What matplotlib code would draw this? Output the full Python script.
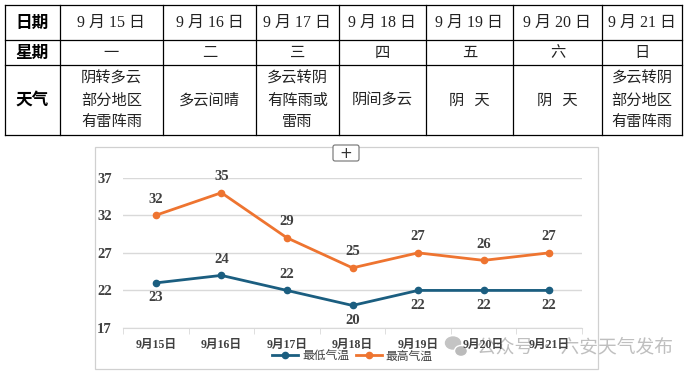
import matplotlib.pyplot as plt
from matplotlib.patches import FancyBboxPatch, Ellipse

plt.rcParams["font.family"] = ["Noto Sans CJK SC", "DejaVu Sans"]

# table data
dates = ["9 月 15 日", "9 月 16 日", "9 月 17 日", "9 月 18 日", "9 月 19 日", "9 月 20 日", "9 月 21 日"]
weekdays = ["一", "二", "三", "四", "五", "六", "日"]
weather = ["阴转多云\n部分地区\n有雷阵雨", "多云间晴", "多云转阴\n有阵雨或\n雷雨", "阴间多云",
           "阴   天", "阴   天", "多云转阴\n部分地区\n有雷阵雨"]
row_heads = ["日期", "星期", "天气"]

# chart data
categories = ["9月15日", "9月16日", "9月17日", "9月18日", "9月19日", "9月20日", "9月21日"]
low_temp = [23, 24, 22, 20, 22, 22, 22]
high_temp = [32, 35, 29, 25, 27, 26, 27]
low_label_pos = ["below", "above", "above", "below", "below", "below", "below"]

W, H = 694, 375
BLUE = "#1B5E80"
ORANGE = "#EE7430"
SERIF = ["Liberation Serif", "Noto Sans CJK SC"]

fig = plt.figure(figsize=(W / 100, H / 100), dpi=100)

# overlay in pixel coords for the table and chart frame
ov = fig.add_axes([0, 0, 1, 1])
ov.set_xlim(0, W)
ov.set_ylim(H, 0)
ov.axis("off")

col_x = [5, 60, 163, 256, 339, 426, 513, 602, 682]
row_y = [5, 40, 65, 135]
for x in col_x:
    ov.plot([x, x], [row_y[0], row_y[-1]], color="black", lw=0.9)
for y in row_y:
    ov.plot([col_x[0], col_x[-1]], [y, y], color="black", lw=0.9)

for i, head in enumerate(row_heads):
    cy = (row_y[i] + row_y[i + 1]) / 2
    ov.text((col_x[0] + col_x[1]) / 2, cy, head, ha="center", va="center",
            fontsize=12, fontweight="bold", color="black")

for j in range(len(dates)):
    cx = (col_x[j + 1] + col_x[j + 2]) / 2
    ov.text(cx, (row_y[0] + row_y[1]) / 2, dates[j], ha="center", va="center",
            fontsize=11.5, color="#222222", family=SERIF)
    ov.text(cx, (row_y[1] + row_y[2]) / 2, weekdays[j], ha="center", va="center",
            fontsize=11, color="#222222")
    ov.text(cx, (row_y[2] + row_y[3]) / 2, weather[j], ha="center", va="center",
            fontsize=11, color="#222222", linespacing=1.35)

# chart frame
ov.add_patch(plt.Rectangle((95, 147), 503, 222, fill=False, edgecolor="#D0D0D0", lw=0.9))
ov.add_patch(FancyBboxPatch((333, 145), 26, 16, boxstyle="round,pad=0,rounding_size=2",
                            facecolor="white", edgecolor="#707070", lw=0.8))
ov.text(346, 153, "+", ha="center", va="center", fontsize=11, color="#333333",
        family="DejaVu Sans")

# watermark
ov.add_patch(Ellipse((453, 343), 15, 12, color="#C4C4C4", zorder=10))
ov.add_patch(Ellipse((461, 351), 13, 11, color="#BBBBBB", ec="white", lw=1, zorder=10))
ov.text(477, 347, "公众号 · 六安天气发布", ha="left", va="center", fontsize=13.5,
        color="#B8B8B8", alpha=0.9, zorder=10)

# chart
left, right, top, bottom = 123, 582, 177.7, 328
ax = fig.add_axes([left / W, 1 - bottom / H, (right - left) / W, (bottom - top) / H])
ax.patch.set_alpha(0)
x = range(len(categories))
ax.plot(x, low_temp, color=BLUE, lw=2, marker="o", ms=4.5, label="最低气温")
ax.plot(x, high_temp, color=ORANGE, lw=2, marker="o", ms=4.5, label="最高气温")

for i, v in enumerate(high_temp):
    ax.annotate(str(v), (i, v), xytext=(0, 7), textcoords="offset points", ha="center",
                va="bottom", fontsize=10.5, fontweight="bold", color="#404040", family=SERIF)
for i, v in enumerate(low_temp):
    dy = 7 if low_label_pos[i] == "above" else -6
    va = "bottom" if low_label_pos[i] == "above" else "top"
    ax.annotate(str(v), (i, v), xytext=(0, dy), textcoords="offset points", ha="center",
                va=va, fontsize=10.5, fontweight="bold", color="#404040", family=SERIF)

ax.set_xlim(-0.5, len(categories) - 0.5)
ax.set_ylim(17, 37)
ax.set_yticks([17, 22, 27, 32, 37])
ax.grid(axis="y", color="#D9D9D9", lw=1)
ax.set_axisbelow(True)
for s in ["top", "right", "left"]:
    ax.spines[s].set_visible(False)
ax.spines["bottom"].set_color("#D9D9D9")
ax.tick_params(axis="y", length=0, pad=8, labelsize=10.5, labelcolor="#404040")
ax.set_xticks([i - 0.5 for i in range(len(categories) + 1)], minor=True)
ax.set_xticks(list(x))
ax.set_xticklabels(categories)
ax.tick_params(axis="x", which="major", length=0, pad=8, labelsize=8.5, labelcolor="#404040")
ax.tick_params(axis="x", which="minor", length=4, color="#D9D9D9")
for lab in ax.get_yticklabels():
    lab.set_family(SERIF)
    lab.set_fontweight("bold")
for lab in ax.get_xticklabels():
    lab.set_family(SERIF)
    lab.set_fontweight("bold")

ax.legend(loc="center", bbox_to_anchor=(0.5, -28 / 150), ncol=2, frameon=False,
          fontsize=8.5, handlelength=2.2, columnspacing=0.6, handletextpad=0.3,
          labelcolor="#404040", borderpad=0)

fig.savefig("out.png", dpi=100)
